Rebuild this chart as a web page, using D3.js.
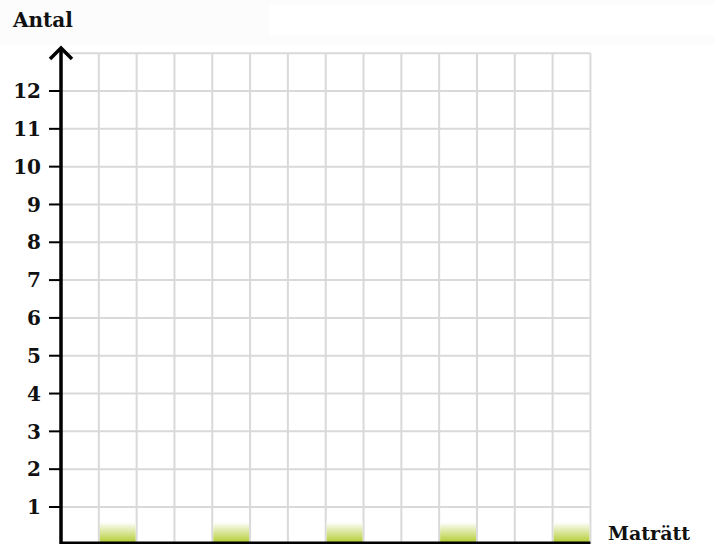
<!DOCTYPE html>
<html lang=sv>
<meta charset=utf-8>
<title>Antal per maträtt</title>
<style>
  body { margin: 0; background: #fff; }
  svg { display: block; }
  text { font-family: "DejaVu Serif", serif; font-weight: bold; fill: #111; }
</style>
<svg id=chart width=714 height=544></svg>
<script src="https://cdn.jsdelivr.net/npm/d3@7"></script>
<script>
// data
var categories = ["Maträtt 1", "Maträtt 2", "Maträtt 3", "Maträtt 4", "Maträtt 5"];
var values = [0, 0, 0, 0, 0];
var yTicks = [1, 2, 3, 4, 5, 6, 7, 8, 9, 10, 11, 12];

var svg = d3.select("#chart");

// faint header band
svg.append("rect").attr("x", 0).attr("y", 0).attr("width", 714).attr("height", 45).attr("fill", "#fcfcfc");
svg.append("rect").attr("x", 270).attr("y", 5).attr("width", 444).attr("height", 30).attr("fill", "#fff");

var plotLeft = 61, plotBottom = 544.8, plotTop = 53.2;
var y = d3.scaleLinear().domain([0, 13]).range([plotBottom, plotTop]);
var unit = (plotBottom - plotTop) / 13;
var cols = 14;
var x = d3.scaleLinear().domain([0, cols]).range([plotLeft, plotLeft + cols * unit]);
var colW = x(1) - x(0);

// grid
var grid = svg.append("g").attr("stroke", "#d9d9d9").attr("stroke-width", 2);
grid.selectAll(".gx").data(d3.range(1, cols + 1)).enter().append("line")
    .attr("x1", function (d) { return x(d); }).attr("x2", function (d) { return x(d); })
    .attr("y1", y(13)).attr("y2", y(0));
grid.selectAll(".gy").data(d3.range(1, 14)).enter().append("line")
    .attr("x1", x(0)).attr("x2", x(cols))
    .attr("y1", function (d) { return y(d); }).attr("y2", function (d) { return y(d); });

// bars (drag handles: minimum visible height)
var defs = svg.append("defs");
var grad = defs.append("linearGradient").attr("id", "barGrad")
    .attr("x1", 0).attr("y1", 0).attr("x2", 0).attr("y2", 1);
grad.append("stop").attr("offset", "0%").attr("stop-color", "#ffffff");
grad.append("stop").attr("offset", "100%").attr("stop-color", "#abc71c");

var handle = 0.6;
svg.append("g").selectAll("rect").data(values).enter().append("rect")
    .attr("x", function (d, i) { return x(1 + 3 * i) + 1; })
    .attr("width", colW - 2)
    .attr("y", function (d) { return y(Math.max(d, handle)); })
    .attr("height", function (d) { return y(0) - y(Math.max(d, handle)); })
    .attr("fill", "url(#barGrad)");

// x axis line
svg.append("line").attr("x1", x(0)).attr("x2", x(cols))
    .attr("y1", 543).attr("y2", 543).attr("stroke", "#000").attr("stroke-width", 3);

// y axis with arrow
var yAxis = svg.append("g");
yAxis.append("line").attr("x1", plotLeft).attr("x2", plotLeft).attr("y1", plotBottom).attr("y2", 48)
    .attr("stroke", "#000").attr("stroke-width", 3.5);
yAxis.append("path").attr("d", "M" + (plotLeft - 11) + ",59L" + plotLeft + ",48L" + (plotLeft + 11) + ",59")
    .attr("fill", "none").attr("stroke", "#000").attr("stroke-width", 3.5);

yAxis.selectAll(".tick").data(yTicks).enter().append("line")
    .attr("x1", plotLeft - 12).attr("x2", plotLeft)
    .attr("y1", function (d) { return y(d); }).attr("y2", function (d) { return y(d); })
    .attr("stroke", "#000").attr("stroke-width", 2);

yAxis.selectAll(".lbl").data(yTicks).enter().append("text")
    .attr("x", 41).attr("y", function (d) { return y(d); })
    .attr("dy", "0.36em")
    .attr("text-anchor", "end")
    .attr("font-size", 20)
    .text(function (d) { return d; });

// titles
svg.append("text").attr("x", 13).attr("y", 27).attr("font-size", 20).text("Antal");
svg.append("text").attr("x", 608).attr("y", 540).attr("font-size", 19).text("Maträtt");
</script>
